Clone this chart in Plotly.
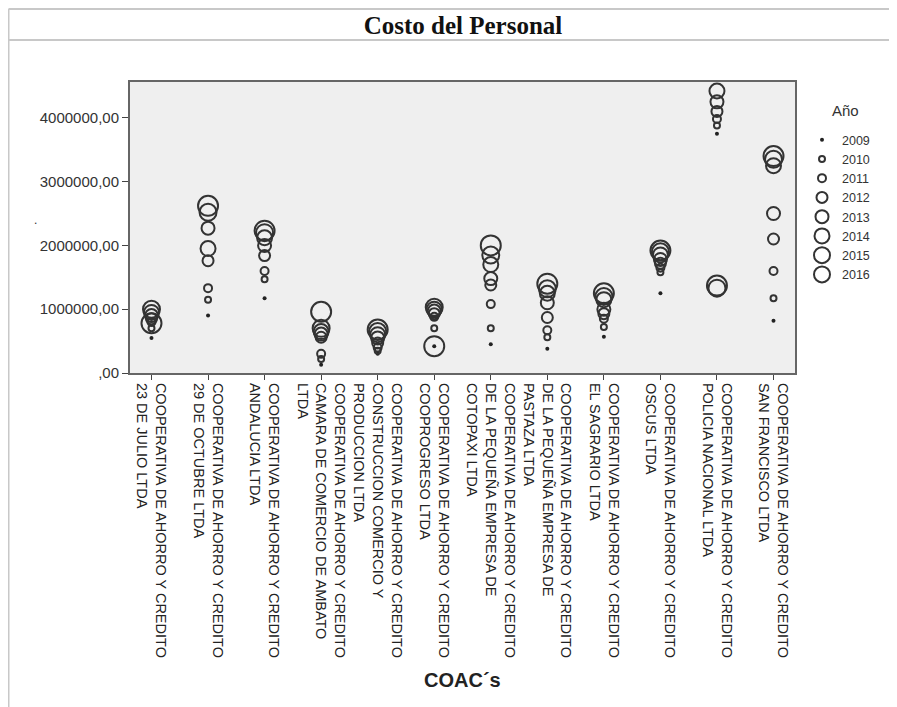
import plotly.graph_objects as go

categories = [
    "COOPERATIVA DE AHORRO Y CREDITO<br>23 DE JULIO LTDA",
    "COOPERATIVA DE AHORRO Y CREDITO<br>29 DE OCTUBRE LTDA",
    "COOPERATIVA DE AHORRO Y CREDITO<br>ANDALUCIA LTDA",
    "COOPERATIVA DE AHORRO Y CREDITO<br>CAMARA DE COMERCIO DE AMBATO<br>LTDA",
    "COOPERATIVA DE AHORRO Y CREDITO<br>CONSTRUCCION COMERCIO Y<br>PRODUCCION LTDA",
    "COOPERATIVA DE AHORRO Y CREDITO<br>COOPROGRESO LTDA",
    "COOPERATIVA DE AHORRO Y CREDITO<br>DE LA PEQUEÑA EMPRESA DE<br>COTOPAXI LTDA",
    "COOPERATIVA DE AHORRO Y CREDITO<br>DE LA PEQUEÑA EMPRESA DE<br>PASTAZA LTDA",
    "COOPERATIVA DE AHORRO Y CREDITO<br>EL SAGRARIO LTDA",
    "COOPERATIVA DE AHORRO Y CREDITO<br>OSCUS LTDA",
    "COOPERATIVA DE AHORRO Y CREDITO<br>POLICIA NACIONAL LTDA",
    "COOPERATIVA DE AHORRO Y CREDITO<br>SAN FRANCISCO LTDA",
]

years = ["2009", "2010", "2011", "2012", "2013", "2014", "2015", "2016"]

costo_2009 = [550000, 900000, 1170000, 130000, 300000, 420000, 450000, 380000, 570000, 1250000, 3750000, 820000]
costo_2010 = [700000, 1150000, 1470000, 220000, 350000, 700000, 700000, 560000, 720000, 1580000, 3880000, 1170000]
costo_2011 = [800000, 1330000, 1600000, 300000, 400000, 880000, 1080000, 670000, 850000, 1650000, 3980000, 1600000]
costo_2012 = [850000, 1760000, 1840000, 560000, 470000, 930000, 1380000, 870000, 930000, 1720000, 4100000, 2100000]
costo_2013 = [900000, 2270000, 2000000, 610000, 550000, 970000, 1480000, 1100000, 1000000, 1780000, 4250000, 2500000]
costo_2014 = [950000, 1950000, 2120000, 650000, 600000, 1000000, 1700000, 1250000, 1150000, 1850000, 4420000, 3250000]
costo_2015 = [1000000, 2520000, 2200000, 700000, 650000, 1030000, 1850000, 1320000, 1200000, 1900000, 1330000, 3350000]
costo_2016 = [780000, 2620000, 2230000, 960000, 680000, 420000, 2000000, 1400000, 1250000, 1920000, 1370000, 3400000]

series = [costo_2009, costo_2010, costo_2011, costo_2012, costo_2013, costo_2014, costo_2015, costo_2016]

y_tickvals = [0, 1000000, 2000000, 3000000, 4000000]
y_ticktext = [",00", "1000000,00", "2000000,00", "3000000,00", "4000000,00"]

marker_sizes = [4, 6, 8, 11, 13, 15, 17, 20]

fig = go.Figure()
for i, (yr, vals) in enumerate(zip(years, series)):
    if i == 0:
        marker = dict(symbol="circle", size=marker_sizes[i], color="#222222",
                      line=dict(width=0))
    else:
        marker = dict(symbol="circle-open", size=marker_sizes[i], color="#333333",
                      line=dict(width=2, color="#333333"))
    fig.add_trace(go.Scatter(
        x=list(range(len(categories))), y=vals, mode="markers", name=yr,
        marker=marker,
    ))

# page has an 8px body margin; target page pixels are converted to figure pixels
OFF = 8
W, H = 897, 707
L, R, T, B = 130 - OFF, 795 - OFF, 82 - OFF, 373 - OFF
pw, ph = R - L, B - T


def px(x):
    return (x - OFF - L) / pw


def py(y):
    return (B - (y - OFF)) / ph


line_col = "#c8c8c8"
shapes = [
    dict(type="line", xref="paper", yref="paper", x0=px(8.5), x1=px(905), y0=py(9), y1=py(9),
         line=dict(color=line_col, width=2)),
    dict(type="line", xref="paper", yref="paper", x0=px(8.5), x1=px(905), y0=py(40), y1=py(40),
         line=dict(color=line_col, width=2)),
    dict(type="line", xref="paper", yref="paper", x0=px(8.5), x1=px(8.5), y0=py(9), y1=py(715),
         line=dict(color=line_col, width=2)),
]

fig.update_layout(
    width=W, height=H,
    margin=dict(l=L, r=W - R, t=T, b=H - B, pad=0),
    paper_bgcolor="white",
    plot_bgcolor="#efefef",
    showlegend=True,
    title=dict(text="<b>Costo del Personal</b>", x=(463 - OFF) / W, xanchor="center",
               y=1 - (25 - OFF) / H, yanchor="middle",
               font=dict(family="Liberation Serif", size=25, color="#111111")),
    legend=dict(x=px(802), y=py(125), xanchor="left", yanchor="top",
                font=dict(family="Liberation Sans", size=12.5, color="#333333"),
                bgcolor="rgba(0,0,0,0)", itemsizing="trace", tracegroupgap=0),
    shapes=shapes,
    annotations=[
        dict(text="Año", xref="paper", yref="paper", x=px(845), y=py(110),
             xanchor="center", yanchor="middle", showarrow=False,
             font=dict(family="Liberation Sans", size=15, color="#333333")),
        dict(text="<b>COAC´s</b>", xref="paper", yref="paper", x=0.5, y=py(680),
             xanchor="center", yanchor="middle", showarrow=False,
             font=dict(family="Liberation Sans", size=20, color="#222222")),
        dict(text=".", xref="paper", yref="paper", x=px(35), y=py(220),
             xanchor="center", yanchor="middle", showarrow=False,
             font=dict(family="Liberation Sans", size=12, color="#333333")),
    ],
)

fig.update_xaxes(
    range=[-0.38, 11.38], tickmode="array", tickvals=list(range(len(categories))),
    ticktext=categories, tickangle=90, ticks="outside", ticklen=5, tickcolor="#444444",
    showgrid=False, zeroline=False, showline=True, linecolor="#666666", linewidth=2,
    mirror=True, tickfont=dict(family="Liberation Sans", size=14.5, color="#222222"),
)
fig.update_yaxes(
    range=[0, (B - T) / 63.8 * 1e6], tickmode="array", tickvals=y_tickvals,
    ticktext=y_ticktext, ticks="outside", ticklen=6, tickcolor="#444444",
    showgrid=False, zeroline=False, showline=True, linecolor="#666666", linewidth=2,
    mirror=True, tickfont=dict(family="Liberation Sans", size=15, color="#333333"),
)

fig.write_html("out.html")
